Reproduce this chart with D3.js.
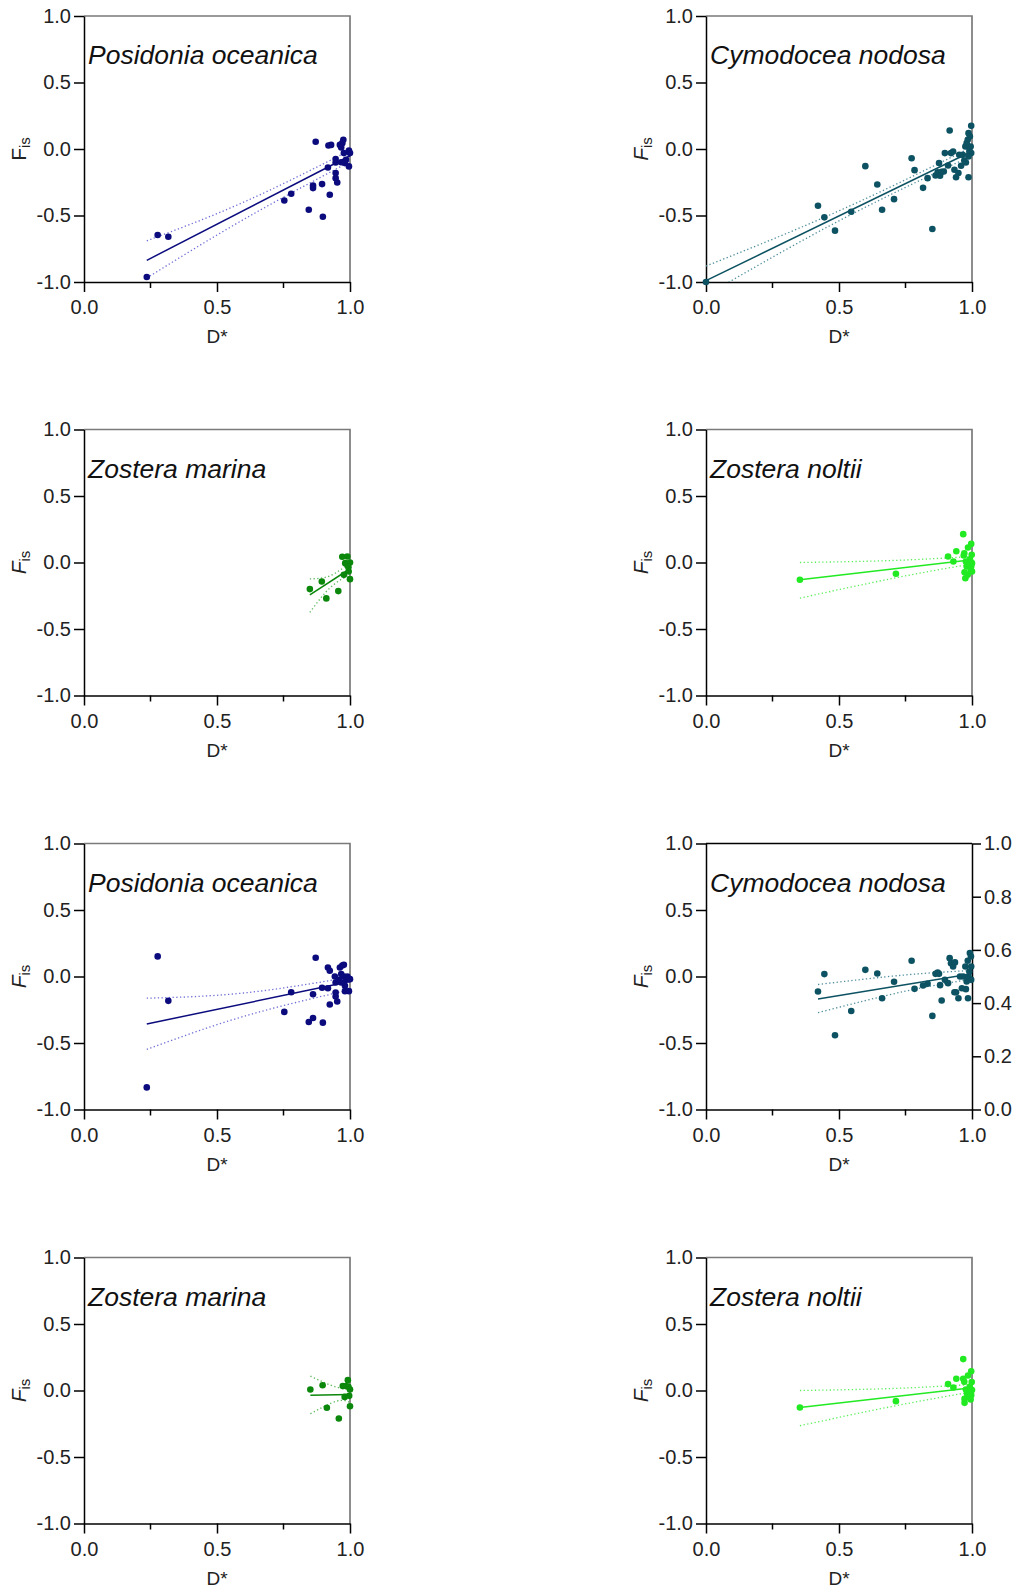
<!DOCTYPE html>
<html lang="en">
<head>
<meta charset="utf-8">
<title>Fis vs D* seagrass panels</title>
<script src="https://cdn.jsdelivr.net/npm/d3@7/dist/d3.min.js"></script>
<style>
body { margin: 0; background: #fff; }
svg { font-family: "Liberation Sans", Arial, sans-serif; }
.axis path, .axis line { stroke: #000; stroke-width: 1.5; }
.axis text { font-size: 20px; fill: #222; font-family: "Liberation Sans", Arial, sans-serif; }
</style>
</head>
<body>
<script>

// --- data (D* on x, Fis on y) ---

// Posidonia oceanica, top panel
var po1D = [0.236,0.277,0.317,0.753,0.779,0.845,0.861,0.861,0.871,0.895,0.898,0.924,0.917,0.919,0.929,0.946,0.946,0.946,0.946,0.952,0.962,0.967,0.971,0.975,0.977,0.981,0.985,0.996,1.0,0.996,0.967];
var po1F = [-0.962,-0.647,-0.66,-0.387,-0.337,-0.457,-0.274,-0.294,0.054,-0.264,-0.509,-0.344,-0.139,0.026,0.031,-0.076,-0.101,-0.181,-0.219,-0.252,0.031,0.011,0.044,0.069,-0.031,-0.106,-0.081,-0.011,-0.031,-0.131,-0.1];
var po1Fit = [[0.236,-0.837],[1.0,-0.051]];
var po1Up = [[0.236,-0.69],[0.6,-0.40],[1.0,-0.01]];
var po1Lo = [[0.236,-0.97],[0.6,-0.53],[1.0,-0.095]];

// Cymodocea nodosa, top panel
var cn1D = [0,0.421,0.445,0.485,0.546,0.599,0.644,0.662,0.707,0.773,0.784,0.816,0.833,0.851,0.863,0.871,0.876,0.88,0.886,0.894,0.898,0.91,0.916,0.921,0.929,0.934,0.94,0.949,0.952,0.959,0.965,0.971,0.975,0.977,0.98,0.984,0.987,0.987,0.99,0.992,0.997,0.997,0.995,0.987];
var cn1F = [-1.0,-0.427,-0.514,-0.614,-0.472,-0.129,-0.267,-0.457,-0.377,-0.069,-0.159,-0.292,-0.219,-0.602,-0.199,-0.176,-0.106,-0.201,-0.171,-0.169,-0.031,-0.124,0.139,-0.031,-0.019,-0.156,-0.212,-0.181,-0.044,-0.126,-0.044,-0.086,0.019,-0.101,0.044,0.069,-0.212,0.119,-0.019,0.094,0.174,-0.031,0.019,-0.056];
var cn1Fit = [[0.0,-0.99],[1.0,-0.017]];
var cn1Up = [[0.0,-0.88],[0.5,-0.465],[1.0,0.015]];
var cn1Lo = [[0.0,-1.10],[0.5,-0.54],[1.0,-0.05]];

// Zostera marina, top panel
var zm1D = [0.849,0.894,0.911,0.956,0.971,0.977,0.982,0.99,0.991,0.995,1.0,1.0,0.994];
var zm1F = [-0.2,-0.143,-0.27,-0.215,0.043,-0.093,-0.005,0.045,-0.018,-0.068,0.0,-0.125,-0.035];
var zm1Fit = [[0.849,-0.243],[1.0,-0.047]];
var zm1Up = [[0.849,-0.123],[0.925,-0.1],[1.0,0.0]];
var zm1Lo = [[0.849,-0.375],[0.925,-0.19],[1.0,-0.092]];

// Zostera noltii, top panel
var zn1D = [0.353,0.714,0.91,0.93,0.941,0.967,0.969,0.971,0.972,0.975,0.977,0.98,0.984,0.985,0.987,0.992,0.995,0.997,0.999,1.0,1.0,0.997,0.994];
var zn1F = [-0.13,-0.085,0.045,0.008,0.085,0.213,0.053,0.07,-0.073,-0.118,0.008,-0.03,-0.093,0.113,-0.005,0.025,-0.055,0.14,0.058,-0.005,-0.068,-0.03,0.008];
var zn1Fit = [[0.353,-0.13],[1.0,0.02]];
var zn1Up = [[0.353,0.0],[0.7,0.015],[1.0,0.045]];
var zn1Lo = [[0.353,-0.268],[0.7,-0.12],[1.0,-0.01]];

// Posidonia oceanica, bottom panel
var po2D = [0.236,0.277,0.317,0.753,0.779,0.845,0.861,0.861,0.871,0.895,0.898,0.917,0.917,0.924,0.924,0.943,0.946,0.946,0.946,0.952,0.962,0.967,0.971,0.977,0.977,0.981,0.985,0.99,0.996,1.0,0.996,0.981,0.967,0.958];
var po2F = [-0.834,0.151,-0.183,-0.266,-0.118,-0.342,-0.133,-0.312,0.141,-0.085,-0.347,-0.088,0.068,0.043,-0.211,0.0,-0.045,-0.121,-0.151,-0.188,0.068,0.018,0.083,0.088,0.0,-0.07,-0.02,0.0,-0.02,-0.02,-0.11,-0.11,-0.045,-0.025];
var po2Fit = [[0.236,-0.357],[1.0,-0.038]];
var po2Up = [[0.236,-0.163],[0.6,-0.124],[1.0,-0.005]];
var po2Lo = [[0.236,-0.548],[0.6,-0.30],[1.0,-0.10]];

// Cymodocea nodosa, bottom panel
var cn2D = [0.421,0.445,0.485,0.546,0.599,0.644,0.662,0.707,0.773,0.784,0.816,0.833,0.851,0.863,0.871,0.876,0.88,0.886,0.898,0.91,0.916,0.921,0.929,0.934,0.94,0.949,0.936,0.955,0.962,0.967,0.975,0.977,0.98,0.984,0.985,0.987,0.992,0.997,0.997,0.99,0.996];
var cn2F = [-0.113,0.018,-0.442,-0.259,0.05,0.023,-0.163,-0.04,0.118,-0.093,-0.068,-0.055,-0.296,0.02,0.03,0.02,-0.065,-0.181,-0.025,-0.05,0.138,0.1,0.075,-0.118,-0.118,-0.163,0.106,0.0,-0.088,0.0,0.075,-0.095,-0.038,0.118,-0.163,0.0,0.176,0.075,-0.025,0.038,0.151];
var cn2Fit = [[0.421,-0.17],[1.0,0.02]];
var cn2Up = [[0.421,-0.06],[0.75,0.012],[1.0,0.045]];
var cn2Lo = [[0.421,-0.272],[0.75,-0.11],[1.0,-0.02]];
var rightAxisTicks = [0, 0.2, 0.4, 0.6, 0.8, 1.0];

// Zostera marina, bottom panel
var zm2D = [0.851,0.897,0.913,0.958,0.973,0.98,0.985,0.992,0.994,0.997,1.0,1.0];
var zm2F = [0.008,0.04,-0.13,-0.21,0.033,-0.048,0.033,0.078,0.028,-0.04,0.008,-0.118];
var zm2Fit = [[0.851,-0.035],[1.0,-0.03]];
var zm2Up = [[0.851,0.108],[0.95,0.025],[1.0,0.03]];
var zm2Lo = [[0.851,-0.175],[0.95,-0.08],[1.0,-0.09]];

// Zostera noltii, bottom panel
var zn2D = [0.353,0.714,0.91,0.93,0.941,0.967,0.967,0.971,0.972,0.972,0.977,0.981,0.985,0.987,0.992,0.995,0.997,0.999,1.0,0.997,0.994];
var zn2F = [-0.128,-0.08,0.048,0.023,0.088,0.236,0.088,0.065,-0.063,-0.093,0.008,-0.023,0.113,-0.048,0.028,-0.068,0.145,0.063,0.003,-0.035,-0.01];
var zn2Fit = [[0.353,-0.128],[1.0,0.02]];
var zn2Up = [[0.353,0.0],[0.7,0.015],[1.0,0.045]];
var zn2Lo = [[0.353,-0.265],[0.7,-0.12],[1.0,-0.01]];

var yTicks = [-1, -0.5, 0, 0.5, 1];
var xMajor = [0, 0.5, 1];
var xMinor = [0.25, 0.75];

// species colours: [points / fit, confidence band]
var colPO = ["#0b0b7e", "#6f6fd6"];
var colCN = ["#0d5262", "#4f8d9c"];
var colZM = ["#0b870b", "#5db85d"];
var colZN = ["#22ea22", "#5cef5c"];

var panels = [
  {name: "Posidonia oceanica", d: po1D, f: po1F, fit: po1Fit, up: po1Up, lo: po1Lo, col: colPO, row: 0, c: 0, italicF: false},
  {name: "Cymodocea nodosa",   d: cn1D, f: cn1F, fit: cn1Fit, up: cn1Up, lo: cn1Lo, col: colCN, row: 0, c: 1, italicF: true},
  {name: "Zostera marina",     d: zm1D, f: zm1F, fit: zm1Fit, up: zm1Up, lo: zm1Lo, col: colZM, row: 1, c: 0, italicF: true},
  {name: "Zostera noltii",     d: zn1D, f: zn1F, fit: zn1Fit, up: zn1Up, lo: zn1Lo, col: colZN, row: 1, c: 1, italicF: true},
  {name: "Posidonia oceanica", d: po2D, f: po2F, fit: po2Fit, up: po2Up, lo: po2Lo, col: colPO, row: 2, c: 0, italicF: true},
  {name: "Cymodocea nodosa",   d: cn2D, f: cn2F, fit: cn2Fit, up: cn2Up, lo: cn2Lo, col: colCN, row: 2, c: 1, italicF: true, rightAxis: true},
  {name: "Zostera marina",     d: zm2D, f: zm2F, fit: zm2Fit, up: zm2Up, lo: zm2Lo, col: colZM, row: 3, c: 0, italicF: true},
  {name: "Zostera noltii",     d: zn2D, f: zn2F, fit: zn2Fit, up: zn2Up, lo: zn2Lo, col: colZN, row: 3, c: 1, italicF: true}
];

var W = 1016, H = 1587;
var pw = 266, ph = 266;
var colX = [84, 706];
var rowY = [16, 429.5, 843.5, 1257.5];

var svg = d3.select("body").append("svg")
  .attr("width", W)
  .attr("height", H);

var fmt = function(d) { return d.toFixed(1); };

panels.forEach(function(p, i) {
  var x0 = colX[p.c], y0 = rowY[p.row];
  var x = d3.scaleLinear().domain([0, 1]).range([x0, x0 + pw]);
  var y = d3.scaleLinear().domain([-1, 1]).range([y0 + ph, y0]);

  var g = svg.append("g");

  // clip for the bands
  svg.append("clipPath").attr("id", "clip" + i)
    .append("rect").attr("x", x0).attr("y", y0).attr("width", pw).attr("height", ph);

  // top + right frame (grey) unless the panel has a real right axis
  if (!p.rightAxis) {
    g.append("path")
      .attr("d", "M" + x0 + "," + y0 + "H" + (x0 + pw) + "V" + (y0 + ph))
      .attr("fill", "none").attr("stroke", "#7a7a7a").attr("stroke-width", 1.7);
  } else {
    g.append("line")
      .attr("x1", x0).attr("x2", x0 + pw).attr("y1", y0).attr("y2", y0)
      .attr("stroke", "#000").attr("stroke-width", 1.6);
    var y2 = d3.scaleLinear().domain([0, 1]).range([y0 + ph, y0]);
    g.append("g").attr("class", "axis")
      .attr("transform", "translate(" + (x0 + pw) + ",0)")
      .call(d3.axisRight(y2).tickValues(rightAxisTicks).tickFormat(fmt).tickSize(9).tickPadding(3).tickSizeOuter(0));
  }

  // axes
  g.append("g").attr("class", "axis")
    .attr("transform", "translate(" + x0 + ",0)")
    .call(d3.axisLeft(y).tickValues(yTicks).tickFormat(fmt).tickSize(10).tickPadding(3).tickSizeOuter(0));

  var xa = g.append("g").attr("class", "axis")
    .attr("transform", "translate(0," + (y0 + ph) + ")");
  xa.call(d3.axisBottom(x).tickValues(xMajor).tickFormat(fmt).tickSize(10).tickPadding(8).tickSizeOuter(0));
  xa.selectAll(".minor").data(xMinor).enter().append("line")
    .attr("class", "minor")
    .attr("x1", function(d) { return x(d); }).attr("x2", function(d) { return x(d); })
    .attr("y1", 0).attr("y2", 6);

  // axis titles
  g.append("text")
    .attr("x", x0 + pw / 2).attr("y", y0 + ph + 61)
    .attr("text-anchor", "middle")
    .attr("font-size", 19).attr("fill", "#222")
    .text("D*");

  var fl = g.append("text")
    .attr("transform", "translate(" + (x0 - 58) + "," + (y0 + ph / 2) + ") rotate(-90)")
    .attr("text-anchor", "middle")
    .attr("font-size", 21).attr("fill", "#222");
  fl.append("tspan").attr("font-style", p.italicF ? "italic" : "normal").text("F");
  fl.append("tspan").attr("font-size", 15).attr("dy", 4).text("is");

  // species name
  g.append("text")
    .attr("x", x0 + 4).attr("y", y0 + 48)
    .attr("font-size", 26.5).attr("font-style", "italic").attr("fill", "#111")
    .text(p.name);

  // confidence bands + fit
  var bandLine = d3.line().curve(d3.curveNatural)
    .x(function(d) { return x(d[0]); }).y(function(d) { return y(d[1]); });
  [p.up, p.lo].forEach(function(b) {
    g.append("path")
      .attr("clip-path", "url(#clip" + i + ")")
      .attr("d", bandLine(b))
      .attr("fill", "none")
      .attr("stroke", p.col[1])
      .attr("stroke-width", 1.3)
      .attr("stroke-dasharray", "1.3,2.4");
  });
  g.append("path")
    .attr("d", d3.line().x(function(d) { return x(d[0]); }).y(function(d) { return y(d[1]); })(p.fit))
    .attr("fill", "none")
    .attr("stroke", p.col[0])
    .attr("stroke-width", 1.5);

  // points
  g.selectAll(".pt").data(p.d).enter().append("circle")
    .attr("class", "pt")
    .attr("cx", function(d) { return x(d); })
    .attr("cy", function(d, j) { return y(p.f[j]); })
    .attr("r", 3.3)
    .attr("fill", p.col[0]);
});

</script>
</body>
</html>
